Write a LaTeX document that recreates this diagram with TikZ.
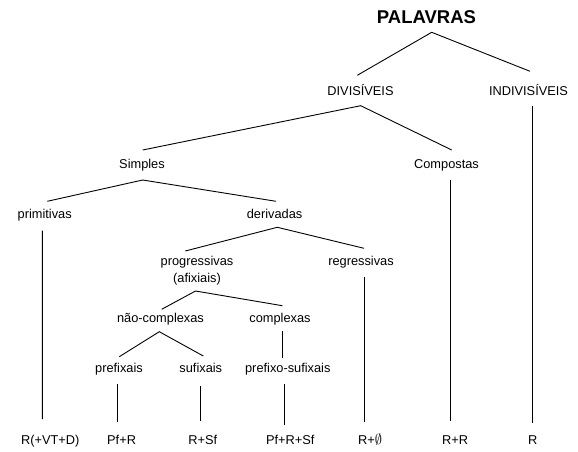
\documentclass[tikz,border=0pt]{standalone}
\usepackage{fontspec}
\setmainfont{Liberation Sans}
\begin{document}
\begin{tikzpicture}[x=1pt,y=-1pt,
  lbl/.style={anchor=base,inner sep=0pt,font=\fontsize{12.8}{16.5}\selectfont},
  ttl/.style={anchor=base,inner sep=0pt,font=\fontsize{18.5}{20}\selectfont\bfseries},
  conn/.style={draw=black,line width=0.9pt}]
\useasboundingbox (0,0) rectangle (578,452);
% nodes
\node[ttl] (pal) at (426.5,23.3) {PALAVRAS};
\node[lbl] (div) at (360.5,95) {DIVISÍVEIS};
\node[lbl] (indiv) at (528.5,95) {INDIVISÍVEIS};
\node[lbl] (simp) at (142,168) {Simples};
\node[lbl] (comp) at (446.5,168) {Compostas};
\node[lbl] (prim) at (44.7,218) {primitivas};
\node[lbl] (deri) at (274.6,218) {derivadas};
\node[lbl,align=center] (prog) at (197,282) {progressivas\\(afixiais)};
\node[lbl] (regr) at (361,265.5) {regressivas};
\node[lbl] (nao) at (160.5,322.5) {não-complexas};
\node[lbl] (compx) at (280,322.5) {complexas};
\node[lbl] (pref) at (119,372.5) {prefixais};
\node[lbl] (suf) at (200.8,372.5) {sufixais};
\node[lbl] (prsuf) at (287.8,372.5) {prefixo-sufixais};
\node[lbl] (b1) at (50.3,444.5) {R(+VT+D)};
\node[lbl] (b2) at (121.6,444.5) {Pf+R};
\node[lbl] (b3) at (202.7,444.5) {R+Sf};
\node[lbl] (b4) at (290.3,444.5) {Pf+R+Sf};
\node[lbl] (b5) at (370,444.5) {R+{\fontsize{15}{16}\selectfont$\emptyset$}};
\node[lbl] (b6) at (455.2,444.5) {R+R};
\node[lbl] (b7) at (532.7,444.5) {R};
% connectors
\draw[conn] ([shift={(-3.2,-19.7)}]div.base) -- ([shift={(5.2,9)}]pal.base) -- ([shift={(1.5,-23.7)}]indiv.base);
\draw[conn] ([shift={(0.7,-18)}]simp.base) -- ([shift={(0.2,10.7)}]div.base) -- ([shift={(5.2,-18)}]comp.base);
\draw[conn] ([shift={(3.8,11)}]indiv.base) -- ([shift={(-0.4,-21.8)}]b7.base);
\draw[conn] ([shift={(4.2,12)}]comp.base) -- ([shift={(-4.5,-24)}]b6.base);
\draw[conn] ([shift={(2.6,-16.7)}]prim.base) -- ([shift={(0.7,12)}]simp.base) -- ([shift={(1.4,-16.7)}]deri.base);
\draw[conn] ([shift={(-2.3,12.7)}]prim.base) -- ([shift={(-7.9,-25.5)}]b1.base);
\draw[conn] ([shift={(-11.7,-31)}]prog.base) -- ([shift={(2.7,9.3)}]deri.base) -- ([shift={(3,-17.2)}]regr.base);
\draw[conn] ([shift={(3.3,11.8)}]regr.base) -- ([shift={(-5.7,-22.9)}]b5.base);
\draw[conn] ([shift={(1.2,-13.2)}]nao.base) -- ([shift={(-1.5,9)}]prog.base) -- ([shift={(2.3,-16.8)}]compx.base);
\draw[conn] ([shift={(0.3,-15.8)}]pref.base) -- ([shift={(-1.2,9.2)}]nao.base) -- ([shift={(2.5,-16.5)}]suf.base);
\draw[conn] ([shift={(2.3,8.5)}]compx.base) -- ([shift={(-5.5,-14.2)}]prsuf.base);
\draw[conn] ([shift={(-1.7,11.5)}]pref.base) -- ([shift={(-4.3,-22.9)}]b2.base);
\draw[conn] ([shift={(-0.8,13.5)}]suf.base) -- ([shift={(-2.7,-24)}]b3.base);
\draw[conn] ([shift={(-3.8,11.1)}]prsuf.base) -- ([shift={(-6.3,-20)}]b4.base);
\end{tikzpicture}
\end{document}
